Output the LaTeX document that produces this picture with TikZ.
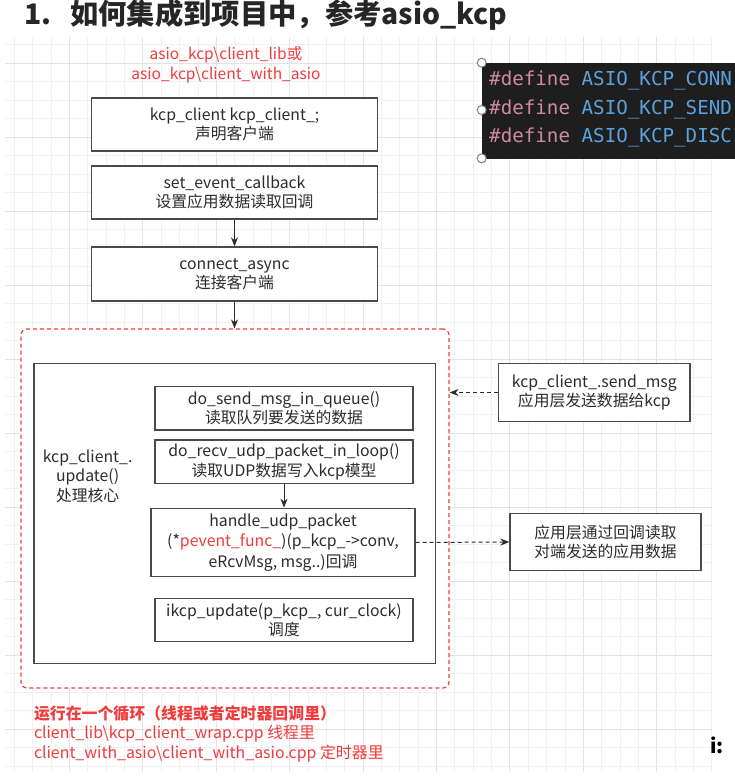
\documentclass[tikz,border=0pt]{standalone}
\usepackage{fontspec}
\setmainfont{Noto Sans CJK SC}
\newfontfamily\codefont{DejaVu Sans Mono}
\usetikzlibrary{arrows.meta}

\definecolor{noteRed}{HTML}{F03C3C}
\definecolor{boxGray}{HTML}{4A4A4A}
\definecolor{textGray}{HTML}{2C2C2C}
\definecolor{gridMinor}{HTML}{F1F1F1}
\definecolor{gridMajor}{HTML}{E3E3E3}
\definecolor{codeBg}{HTML}{1E1E1E}
\definecolor{codeKey}{HTML}{D08AA0}
\definecolor{codeName}{HTML}{5AA2DE}

\begin{document}
\begin{tikzpicture}[x=1pt,y=-1pt,
        box/.style={draw=boxGray,line width=1.3pt,fill=white,align=center,text=textGray,
            inner sep=0pt,font=\fontsize{15.8}{19.5}\selectfont},
        note/.style={text=noteRed,align=center,inner sep=0pt,
            font=\fontsize{15.5}{19.5}\selectfont},
        flow/.style={-{Stealth[length=9pt,width=7pt]},line width=0.9pt,draw=textGray},
        hint/.style={-{Stealth[length=9pt,width=7pt]},line width=1pt,
            dash pattern=on 4pt off 3pt,draw=textGray}]
        \fill[white] (0,0) rectangle (735,779);
        \useasboundingbox (0,0) rectangle (735,779);

        % grid
        \foreach \gx in {0,...,38} {
            \pgfmathsetmacro\gk{mod(\gx,4)==3 ? 1 : 0}
            \ifnum\gk=1
                \draw[gridMajor,line width=0.9pt] ({14.4+18.35*\gx},37) -- ++(0,735);
            \else
                \draw[gridMinor,line width=0.8pt] ({14.4+18.35*\gx},37) -- ++(0,735);
            \fi
        }
        \foreach \gy in {0,...,39} {
            \pgfmathsetmacro\gk{mod(\gy,4)==1 ? 1 : 0}
            \ifnum\gk=1
                \draw[gridMajor,line width=0.9pt] (5,{44.5+18.5*\gy}) -- (712,{44.5+18.5*\gy});
            \else
                \draw[gridMinor,line width=0.8pt] (5,{44.5+18.5*\gy}) -- (712,{44.5+18.5*\gy});
            \fi
        }

        \node[anchor=west,inner sep=0pt,text=black!85,font=\fontsize{28.3}{30}\selectfont\bfseries]
            (title) at (24,15) {1.\hspace{19pt}如何集成到项目中，参考asio\_kcp};

        \node[note] (srcpath) at (226,65) {asio\_kcp\textbackslash client\_lib或\\asio\_kcp\textbackslash client\_with\_asio};

        \node[box,minimum width=286,minimum height=53] (kcpclient) at (234.5,124.5)
            {kcp\_client kcp\_client\_;\\声明客户端};
        \node[box,minimum width=286,minimum height=53] (setcb) at (234.5,192.5)
            {set\_event\_callback\\设置应用数据读取回调};
        \node[box,minimum width=286,minimum height=54] (connect) at (234.5,274)
            {connect\_async\\连接客户端};

        \node[draw=noteRed,fill=white,line width=1.2pt,dash pattern=on 4pt off 3pt,
            rounded corners=6pt,minimum width=428,minimum height=359] (loop) at (235,508.5) {};
        \node[box,line width=1.4pt,minimum width=401.5,minimum height=300] (core) at (234.75,513.3) {};
        \node[box,draw=none,fill=none] (corelabel) at (87.6,476) {kcp\_client\_.\\update()\\处理核心};

        \node[box,minimum width=258,minimum height=43.3] (sendq) at (284,408.3)
            {do\_send\_msg\_in\_queue()\\读取队列要发送的数据};
        \node[box,minimum width=258,minimum height=43.3] (recvq) at (284,461.7)
            {do\_recv\_udp\_packet\_in\_loop()\\读取UDP数据写入kcp模型};
        \node[box,minimum width=264,minimum height=68.4,
            font=\fontsize{15.8}{20.5}\selectfont] (handle) at (283,542.5)
            {handle\_udp\_packet\\(*{\color{noteRed}pevent\_func\_})(p\_kcp\_->conv,\\eRcvMsg, msg..)回调};
        \node[box,minimum width=258,minimum height=43.4] (ikcp) at (284,620)
            {ikcp\_update(p\_kcp\_, cur\_clock)\\调度};

        \node[box,minimum width=191.4,minimum height=58.4] (sendmsg) at (594.3,392.5)
            {kcp\_client\_.send\_msg\\应用层发送数据给kcp};
        \node[box,minimum width=191,minimum height=57.4] (app) at (605.5,542)
            {应用层通过回调读取\\对端发送的应用数据};

        \draw[flow] (setcb) -- (connect);
        \draw[flow] (connect.south) -- (connect.south |- loop.north);
        \draw[flow] (recvq) -- (recvq.south |- handle.north);
        \draw[hint] (sendmsg.west) -- (sendmsg.west -| loop.east);
        \draw[hint] (handle.east) -- (app.west);

        \node[note,anchor=north west,align=left,font=\fontsize{15.9}{19.5}\selectfont] (looptext) at (33.8,705)
            {\bfseries 运行在一个循环（线程或者定时器回调里）\\
             client\_lib\textbackslash kcp\_client\_wrap.cpp 线程里\\
             client\_with\_asio\textbackslash client\_with\_asio.cpp 定时器里};

        % code snippet, runs to the page edge
        \fill[codeBg] (481.7,62.7) rectangle (735,159);
        \foreach \y/\macro in {80/CONN,109.3/SEND,137.7/DISC}
            \node[anchor=west,inner sep=0pt,font=\codefont\fontsize{19.2}{22}\selectfont]
                at (489,\y) {\color{codeKey}\#define \color{codeName}ASIO\_KCP\_\macro};
        \foreach \y in {62.7,110,158.3}
            \draw[gray,fill=white,line width=1pt] (481.7,\y) circle (4.5);

        \node[anchor=west,inner sep=0pt,font=\fontsize{20}{22}\selectfont\bfseries] (cut) at (710,745) {i:};
    \end{tikzpicture}
\end{document}
